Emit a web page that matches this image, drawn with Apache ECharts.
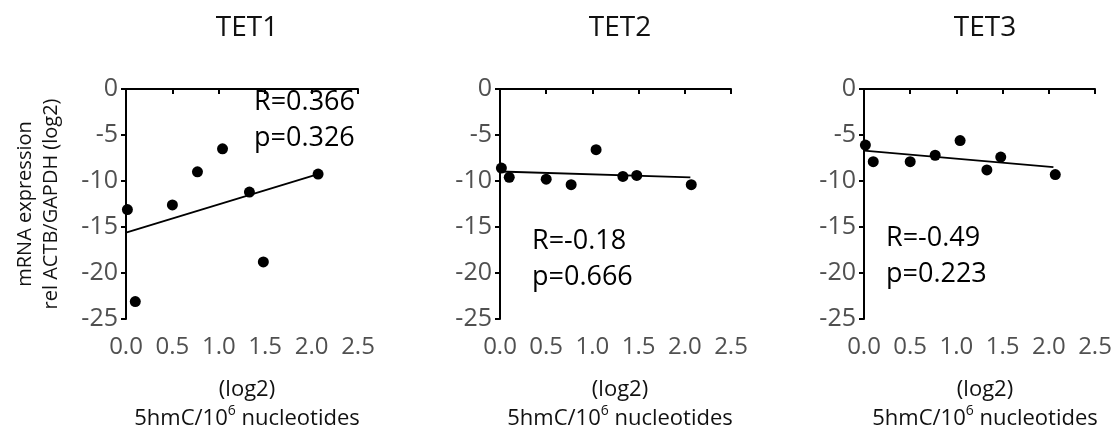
<!DOCTYPE html>
<html>
<head>
<meta charset="utf-8">
<script src="https://cdn.jsdelivr.net/npm/echarts@6/dist/echarts.min.js"></script>
<style>
  html, body { margin: 0; padding: 0; background: #fff; }
  #chart { width: 1118px; height: 435px; }
</style>
</head>
<body>
<div id="chart"></div>
<script>
// shared x values (5hmC, log2) for the eight samples
const hmcLog2 = [0.015, 0.1, 0.5, 0.77, 1.04, 1.33, 1.48, 2.07];

// mRNA expression per gene (log2)
const tet1 = [-13.1, -23.1, -12.6, -9.0, -6.5, -11.2, -18.8, -9.25];
const tet2 = [-8.6, -9.6, -9.8, -10.4, -6.6, -9.5, -9.4, -10.4];
const tet3 = [-6.1, -7.9, -7.9, -7.2, -5.6, -8.8, -7.4, -9.3];

// regression line end points
const fit1X = [0, 2.07], fit1Y = [-15.6, -9.25];
const fit2X = [0, 2.06], fit2Y = [-8.97, -9.6];
const fit3X = [0, 2.05], fit3Y = [-6.7, -8.5];

const genes = ["TET1", "TET2", "TET3"];
const stats = [["R=0.366", "p=0.326"], ["R=-0.18", "p=0.666"], ["R=-0.49", "p=0.223"]];

const FONT = "'Open Sans', 'Noto Sans', sans-serif";

const chart = echarts.init(document.getElementById("chart"), null, { renderer: "canvas" });

// plot boxes
const grids = [
  { left: 126, top: 89, width: 232, height: 230 },
  { left: 500, top: 89, width: 231, height: 230 },
  { left: 864, top: 89, width: 231, height: 230 },
];
const textCenters = [247, 620, 985];
const statPos = [[254, 102], [532, 241], [886, 238]];

const pairs = (xs, ys) => xs.map((x, i) => [x, ys[i]]);
const values = [tet1, tet2, tet3];
const fits = [[fit1X, fit1Y], [fit2X, fit2Y], [fit3X, fit3Y]];

const xAxes = grids.map((g, i) => ({
  type: "value",
  gridIndex: i,
  min: 0,
  max: 2.5,
  interval: 0.5,
  axisLine: { lineStyle: { color: "#000", width: 2 } },
  axisTick: { length: 5, lineStyle: { color: "#000", width: 2 } },
  axisLabel: {
    margin: 16,
    fontFamily: FONT,
    fontSize: 24,
    color: "#505050",
    formatter: v => v.toFixed(1),
    showMinLabel: true,
    showMaxLabel: true,
  },
  splitLine: { show: false },
}));

const yAxes = grids.map((g, i) => ({
  type: "value",
  gridIndex: i,
  min: -25,
  max: 0,
  interval: 5,
  name: i === 0 ? "mRNA expression\nrel ACTB/GAPDH (log2)" : "",
  nameLocation: "middle",
  nameRotate: 90,
  nameGap: 62,
  nameTextStyle: { fontFamily: FONT, fontSize: 20, lineHeight: 26, color: "#111" },
  axisLine: { show: true, lineStyle: { color: "#000", width: 2 } },
  axisTick: { show: true, length: 5, lineStyle: { color: "#000", width: 2 } },
  axisLabel: { margin: 8, fontFamily: FONT, fontSize: 25, color: "#505050" },
  splitLine: { show: false },
}));

const series = [];
values.forEach((vals, i) => {
  series.push({
    type: "scatter",
    xAxisIndex: i,
    yAxisIndex: i,
    data: pairs(hmcLog2, vals),
    symbolSize: 11,
    itemStyle: { color: "#000", opacity: 1 },
    z: 3,
  });
  series.push({
    type: "line",
    xAxisIndex: i,
    yAxisIndex: i,
    data: pairs(fits[i][0], fits[i][1]),
    symbol: "none",
    lineStyle: { color: "#000", width: 1.8 },
    z: 2,
  });
});

const graphic = [];
genes.forEach((name, i) => {
  graphic.push({
    type: "text",
    x: textCenters[i],
    y: 28,
    style: { text: name, fontFamily: FONT, fontSize: 28, fill: "#111", align: "center", verticalAlign: "middle" },
  });
  graphic.push({
    type: "text",
    x: textCenters[i],
    y: 390,
    style: { text: "(log2)", fontFamily: FONT, fontSize: 22, fill: "#111", align: "center", verticalAlign: "middle" },
  });
  graphic.push({
    type: "text",
    x: textCenters[i],
    y: 419,
    style: {
      text: "{t|5hmC/10}{sup|6}{t| nucleotides}",
      align: "center",
      verticalAlign: "middle",
      rich: {
        t: { fontFamily: FONT, fontSize: 22, fill: "#111", lineHeight: 30 },
        sup: { fontFamily: FONT, fontSize: 14, fill: "#111", lineHeight: 14, verticalAlign: "top" },
      },
    },
  });
  stats[i].forEach((line, k) => {
    graphic.push({
      type: "text",
      x: statPos[i][0],
      y: statPos[i][1] + k * 36,
      style: { text: line, fontFamily: FONT, fontSize: 27, fill: "#000", align: "left", verticalAlign: "middle" },
    });
  });
});

chart.setOption({
  animation: false,
  backgroundColor: "#fff",
  grid: grids,
  xAxis: xAxes,
  yAxis: yAxes,
  series: series,
  graphic: graphic,
});
</script>
</body>
</html>
